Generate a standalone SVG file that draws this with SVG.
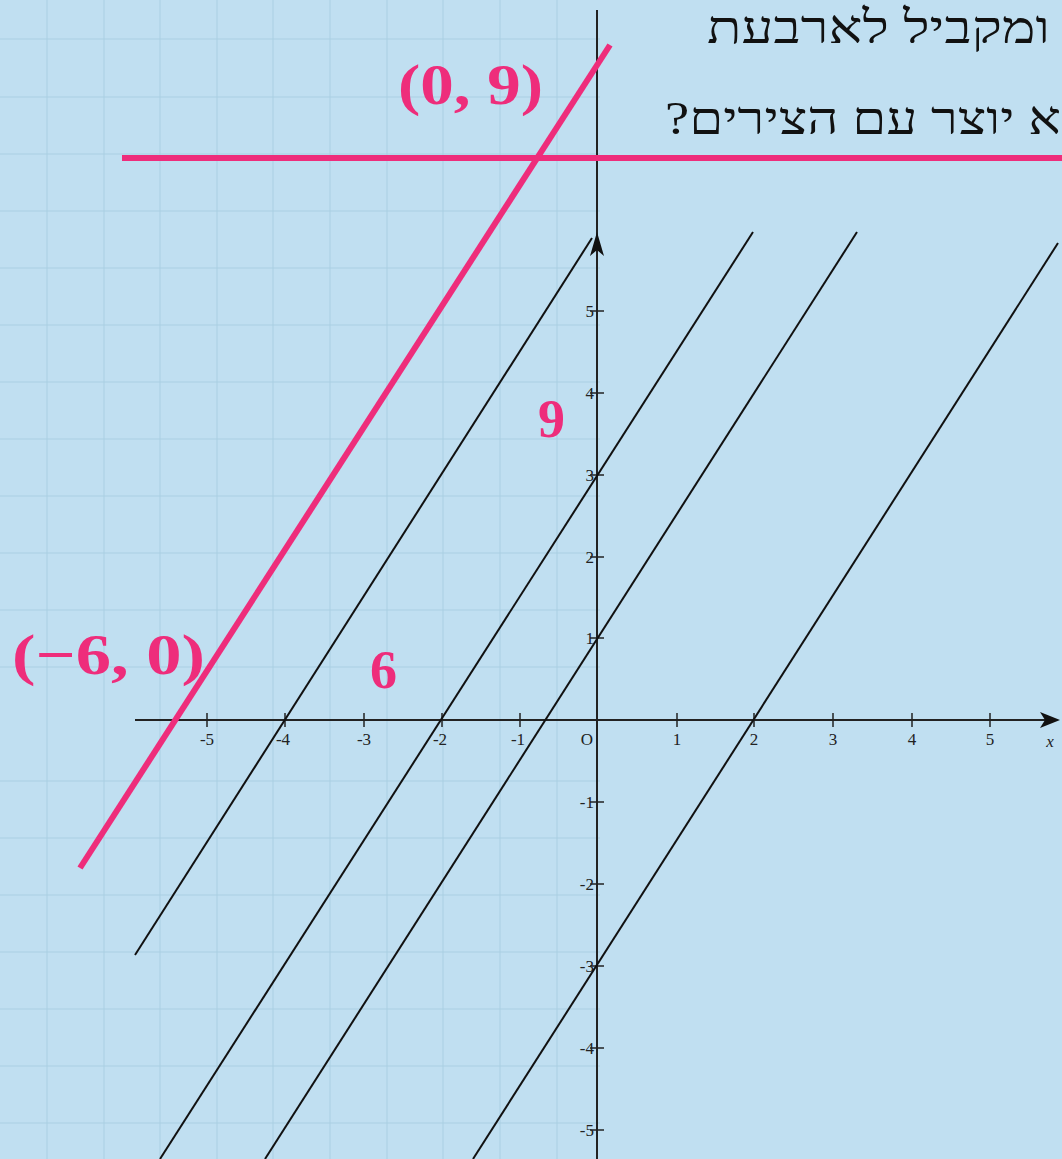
<svg xmlns="http://www.w3.org/2000/svg" width="1062" height="1159" viewBox="0 0 1062 1159">
<defs>
<style>
.grid line{stroke:#a9cfe3;stroke-width:2;opacity:0.45}
.ax{stroke:#222;stroke-width:2;fill:none}
.tick{stroke:#222;stroke-width:1.5}
.blk{stroke:#111;stroke-width:2;fill:none}
.pink{stroke:#ee2d7b;stroke-width:6;fill:none}
.tl{font-family:"Liberation Serif",serif;font-size:17px;fill:#222}
.pl{font-family:"Liberation Serif",serif;font-weight:bold;fill:#ee2d7b}
.heb{font-family:"Liberation Serif","DejaVu Serif",serif;font-size:46px;fill:#111}
</style>
</defs>
<rect width="1062" height="1159" fill="#c0dff1"/>
<g class="grid">
<line x1="47" y1="0" x2="47" y2="1159"/><line x1="104" y1="0" x2="104" y2="1159"/><line x1="160" y1="0" x2="160" y2="1159"/><line x1="217" y1="0" x2="217" y2="1159"/><line x1="273" y1="0" x2="273" y2="1159"/><line x1="330" y1="0" x2="330" y2="1159"/><line x1="387" y1="0" x2="387" y2="1159"/><line x1="443" y1="0" x2="443" y2="1159"/><line x1="500" y1="0" x2="500" y2="1159"/><line x1="557" y1="0" x2="557" y2="1159"/>
<line x1="0" y1="39" x2="600" y2="39"/><line x1="0" y1="97" x2="600" y2="97"/><line x1="0" y1="154" x2="600" y2="154"/><line x1="0" y1="211" x2="600" y2="211"/><line x1="0" y1="268" x2="600" y2="268"/><line x1="0" y1="325" x2="600" y2="325"/><line x1="0" y1="382" x2="600" y2="382"/><line x1="0" y1="439" x2="600" y2="439"/><line x1="0" y1="496" x2="600" y2="496"/><line x1="0" y1="553" x2="600" y2="553"/><line x1="0" y1="610" x2="600" y2="610"/><line x1="0" y1="667" x2="600" y2="667"/><line x1="0" y1="781" x2="600" y2="781"/><line x1="0" y1="838" x2="600" y2="838"/><line x1="0" y1="895" x2="600" y2="895"/><line x1="0" y1="952" x2="600" y2="952"/><line x1="0" y1="1009" x2="600" y2="1009"/><line x1="0" y1="1066" x2="600" y2="1066"/><line x1="0" y1="1123" x2="600" y2="1123"/>
</g>
<g id="hebrew-text">
<text class="heb" x="1050" y="43" direction="rtl" text-anchor="start" textLength="343" lengthAdjust="spacingAndGlyphs">ומקביל לארבעת</text>
<text class="heb" x="1061" y="134" direction="rtl" text-anchor="start" textLength="396" lengthAdjust="spacingAndGlyphs">א יוצר עם הצירים?</text>
</g>
<g id="axes">
<line class="ax" x1="597" y1="10" x2="597" y2="1159" stroke-width="1.5"/>
<line class="ax" x1="135" y1="720" x2="1050" y2="720"/>
<polygon points="597,232 590,256 597,250 604,256" fill="#111"/>
<polygon points="1060,720 1040,712 1045,720 1040,728" fill="#111"/>
<g class="tick">
<line x1="207" y1="713" x2="207" y2="727"/><line x1="285" y1="713" x2="285" y2="727"/><line x1="364" y1="713" x2="364" y2="727"/><line x1="442" y1="713" x2="442" y2="727"/><line x1="520" y1="713" x2="520" y2="727"/>
<line x1="677" y1="713" x2="677" y2="727"/><line x1="754" y1="713" x2="754" y2="727"/><line x1="833" y1="713" x2="833" y2="727"/><line x1="912" y1="713" x2="912" y2="727"/><line x1="990" y1="713" x2="990" y2="727"/>
<line x1="590" y1="311" x2="604" y2="311"/><line x1="590" y1="393" x2="604" y2="393"/><line x1="590" y1="475" x2="604" y2="475"/><line x1="590" y1="557" x2="604" y2="557"/><line x1="590" y1="638" x2="604" y2="638"/>
<line x1="590" y1="802" x2="604" y2="802"/><line x1="590" y1="884" x2="604" y2="884"/><line x1="590" y1="966" x2="604" y2="966"/><line x1="590" y1="1048" x2="604" y2="1048"/><line x1="590" y1="1130" x2="604" y2="1130"/>
</g>
<g class="tl" text-anchor="middle">
<text x="207" y="745">-5</text><text x="283" y="745">-4</text><text x="364" y="745">-3</text><text x="440" y="745">-2</text><text x="518" y="745">-1</text><text x="587" y="745">O</text>
<text x="677" y="745">1</text><text x="754" y="745">2</text><text x="833" y="745">3</text><text x="912" y="745">4</text><text x="990" y="745">5</text>
<text x="1050" y="747" font-style="italic">x</text>
</g>
<g class="tl" text-anchor="end">
<text x="594" y="317">5</text><text x="594" y="399">4</text><text x="594" y="481">3</text><text x="594" y="563">2</text><text x="594" y="644">1</text>
<text x="594" y="808">-1</text><text x="594" y="890">-2</text><text x="594" y="972">-3</text><text x="594" y="1054">-4</text><text x="594" y="1136">-5</text>
</g>
</g>
<g id="parallel-lines">
<line class="blk" x1="135" y1="955" x2="592" y2="238"/>
<line class="blk" x1="160" y1="1159" x2="753" y2="232"/>
<line class="blk" x1="265" y1="1159" x2="857" y2="232"/>
<line class="blk" x1="473" y1="1159" x2="1058" y2="243"/>
</g>
<g id="pink-lines">
<line class="pink" x1="122" y1="158" x2="1062" y2="158" stroke-width="5"/>
<line class="pink" x1="80" y1="868" x2="610" y2="45"/>
</g>
<g id="pink-labels">
<text class="pl" x="398" y="104" font-size="58" textLength="145" lengthAdjust="spacingAndGlyphs">(0, 9)</text>
<text class="pl" x="12" y="674" font-size="58" textLength="193" lengthAdjust="spacingAndGlyphs">(−6, 0)</text>
<text class="pl" x="538" y="437" font-size="54">9</text>
<text class="pl" x="370" y="688" font-size="54">6</text>
</g>
</svg>
